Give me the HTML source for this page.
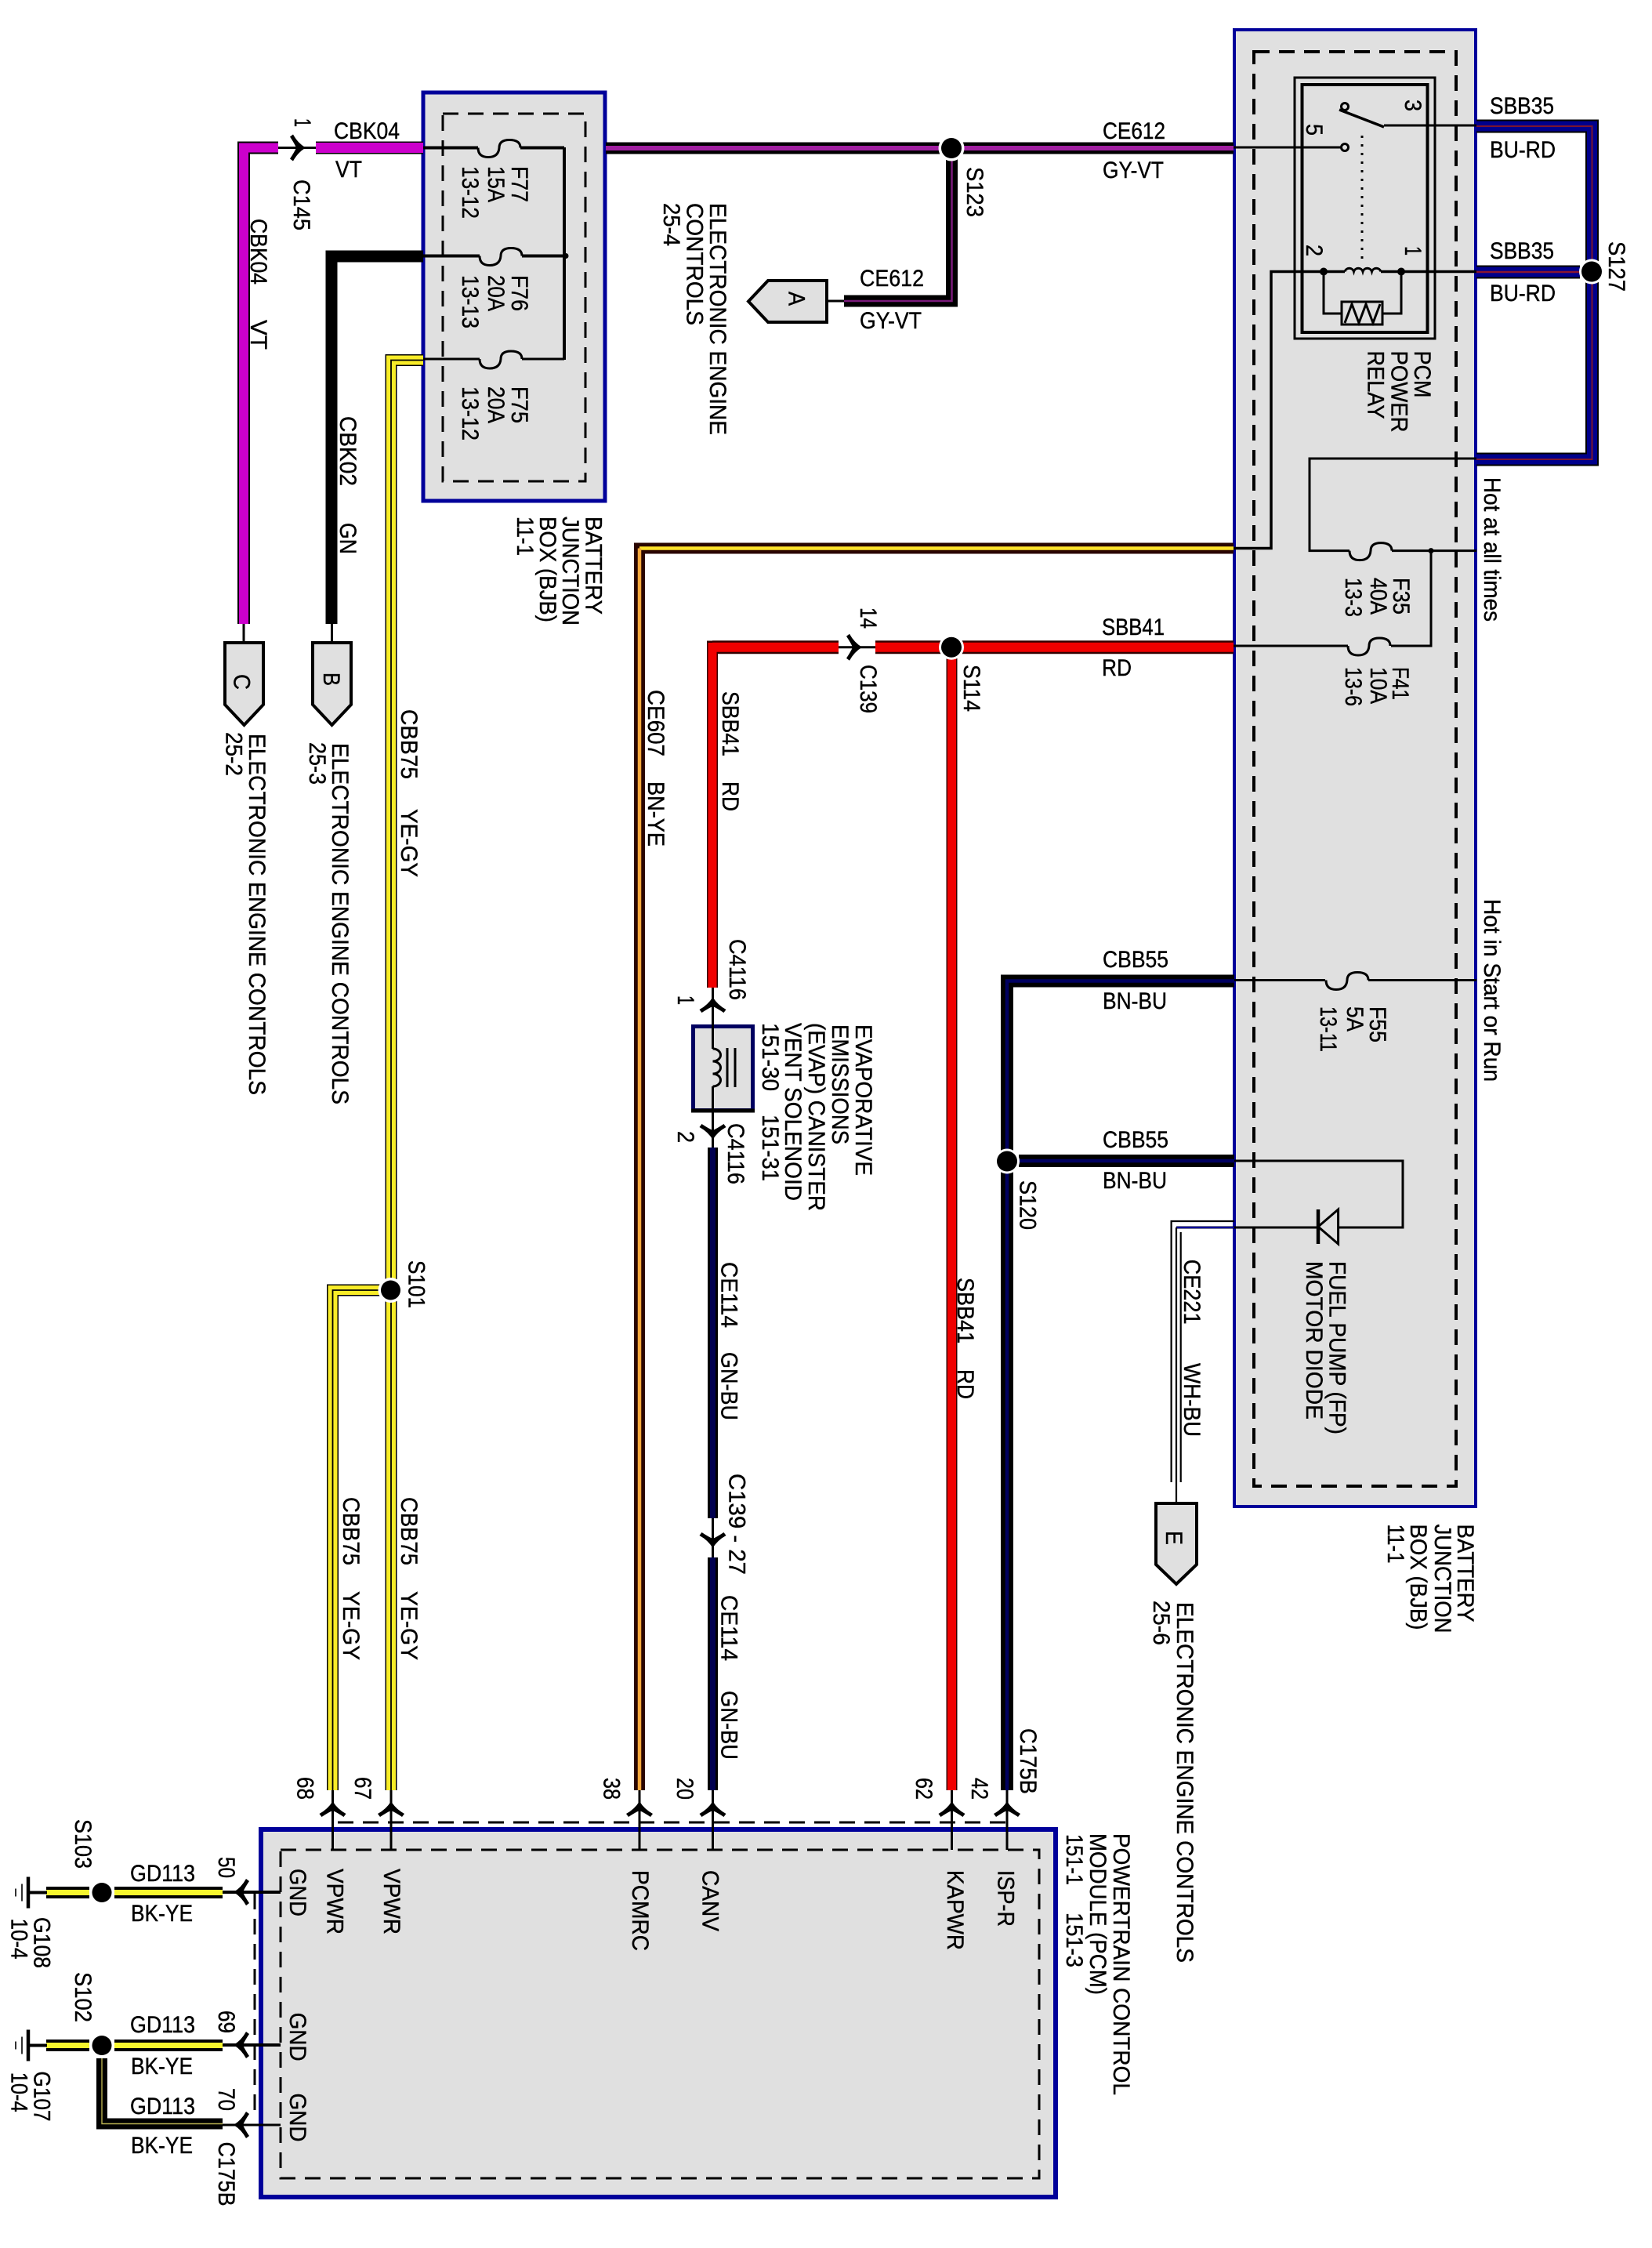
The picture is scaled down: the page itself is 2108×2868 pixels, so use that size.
<!DOCTYPE html>
<html lang="en">
<head>
<meta charset="utf-8">
<title>PCM power wiring diagram</title>
<style>
html,body{margin:0;padding:0;background:#fff}
svg{display:block}
text{font-family:"Liberation Sans",sans-serif;font-size:30px;fill:#000;stroke:#000;stroke-width:.4px}
.w{fill:none;stroke-linejoin:miter;stroke-linecap:butt}
.t{fill:none;stroke:#000;stroke-width:3}
.d{fill:none;stroke:#000;stroke-width:3;stroke-dasharray:20 12}
.box{fill:#e0e0e0;stroke:#00009a;stroke-width:5}
.conn{fill:#e0e0e0;stroke:#000;stroke-width:4}
</style>
</head>
<body>
<svg xmlns="http://www.w3.org/2000/svg" width="2108" height="2868" viewBox="0 0 2108 2868">
<defs>
<path id="fuse" class="t" d="M0 0Q0 12 13 12Q26 12 27 0Q27-10 40-10Q54-10 54 0"/>
<path id="chev" d="M0-2Q-6 8-17 14L-14 18Q-5 12 0 10Q5 12 14 18L17 14Q6 8 0-2Z" fill="#000"/>
<g id="gnd">
<path d="M36 -20V20" stroke="#000" stroke-width="4.5" fill="none"/>
<path d="M36 0H60" stroke="#000" stroke-width="4" fill="none"/>
<path d="M28 -11V11M20 -5V5" stroke="#000" stroke-width="1.6" fill="none"/>
</g>
</defs>
<rect width="2108" height="2868" fill="#fff"/>

<!-- Boxes -->
<rect class="box" x="540" y="118" width="232" height="521"/>
<rect class="d" x="565" y="145" width="182" height="469"/>
<rect class="box" x="1575" y="38" width="308" height="1884" style="stroke-width:4"/>
<rect class="d" x="1600" y="66" width="258" height="1830" style="stroke-width:4"/>
<rect class="box" x="333" y="2334" width="1014" height="469" style="stroke-width:6"/>
<rect class="d" x="358" y="2360" width="968" height="419"/>
<path class="d" d="M431 2325H1285M325 2416V2700"/>

<!-- CBK04 -->
<path class="w" stroke="#000" stroke-width="16" d="M355 188.5H311V796"/>
<path class="w" stroke="#cc00cc" stroke-width="12" d="M355 188.5H311V796"/>
<path class="w" stroke="#000" stroke-width="16" d="M403 188.5H540"/>
<path class="w" stroke="#cc00cc" stroke-width="13" d="M403 188.5H540"/>
<!-- CBK02 -->
<path class="w" stroke="#000" stroke-width="15" d="M540 327H423V796"/>
<!-- CBB75 -->
<path class="w" stroke="#000" stroke-width="15" d="M540 459.5H499V2284"/>
<path class="w" stroke="#f8ec28" stroke-width="12" d="M540 459.5H499V2284"/>
<path class="w" stroke="#000" stroke-width="1.8" d="M540 459.5H499V2284"/>
<path class="w" stroke="#000" stroke-width="15" d="M486 1646H424.5V2284"/>
<path class="w" stroke="#f8ec28" stroke-width="12" d="M486 1646H424.5V2284"/>
<path class="w" stroke="#000" stroke-width="1.8" d="M486 1646H424.5V2284"/>

<!-- CE612 -->
<path class="w" stroke="#000" stroke-width="15" d="M773 189H1574"/>
<path class="w" stroke="#a01fa0" stroke-width="6" d="M773 189H1574"/>
<path class="w" stroke="#000" stroke-width="15" d="M1214.5 200V384H1077"/>
<path class="w" stroke="#7a1a7a" stroke-width="2.5" d="M1214.5 200V384H1077"/>
<path class="t" d="M1055 384H1077"/>

<!-- CE607 -->
<path class="w" stroke="#2a0500" stroke-width="14" d="M1574 699.5H816V2284"/>
<path class="w" stroke="#ffe22a" stroke-width="4.5" d="M1574 699.5H816"/>
<path class="w" stroke="#f6a83c" stroke-width="4.5" d="M816 699.5V2284"/>

<!-- SBB41 -->
<path class="w" stroke="#300" stroke-width="17" d="M1070 825.7H909"/>
<path class="w" stroke="#300" stroke-width="14" d="M909 817.5V1260"/>
<path class="w" stroke="#f00000" stroke-width="12" d="M1070 825.7H909"/>
<path class="w" stroke="#f00000" stroke-width="11" d="M909 820V1260"/>
<path class="w" stroke="#300" stroke-width="17" d="M1117 825.7H1574"/>
<path class="w" stroke="#f00000" stroke-width="12" d="M1117 825.7H1574"/>
<path class="w" stroke="#300" stroke-width="14" d="M1214.5 840V2284"/>
<path class="w" stroke="#f00000" stroke-width="11" d="M1214.5 840V2284"/>

<!-- CE114 -->
<path class="w" stroke="#000" stroke-width="13" d="M909.5 1464V1937M909.5 1987V2284"/>
<path class="w" stroke="#000050" stroke-width="7" d="M909.5 1464V1937M909.5 1987V2284"/>

<!-- CBB55 / C175B -->
<path class="w" stroke="#000" stroke-width="16" d="M1575 1251.5H1285V2284"/>
<path class="w" stroke="#000060" stroke-width="4.5" d="M1575 1251.5H1285V2284"/>
<path class="w" stroke="#000" stroke-width="16" d="M1300 1481H1575"/>
<path class="w" stroke="#000060" stroke-width="4.5" d="M1300 1481H1575"/>

<!-- SBB35 -->
<path class="w" stroke="#000" stroke-width="17" d="M1884 161H2031.5V586H1884"/>
<path class="w" stroke="#00008c" stroke-width="13" d="M1884 161H2031.5V586H1884"/>
<path class="w" stroke="#7a1530" stroke-width="2" d="M1884 161H2031.5V586H1884"/>
<path class="w" stroke="#000" stroke-width="17" d="M1884 347H2016"/>
<path class="w" stroke="#00008c" stroke-width="13" d="M1884 347H2016"/>
<path class="w" stroke="#8a1530" stroke-width="2.5" d="M1884 347H2016"/>

<!-- GD113 -->
<path class="w" stroke="#000" stroke-width="15" d="M146 2414.5H284M59 2414.5H114M146 2609.5H284M59 2609.5H114"/>
<path class="w" stroke="#f6f62e" stroke-width="7" d="M146 2414.5H284M59 2414.5H114M146 2609.5H284M59 2609.5H114"/>
<path class="w" stroke="#000" stroke-width="14" d="M130 2626V2709.5H284"/>
<path class="w" stroke="#b8b050" stroke-width="1.4" d="M130 2626V2709.5H284"/>

<!-- BJB1 internals -->
<path class="t" style="stroke-width:4" d="M540 188.5H610M664 188.5H720M540 326.5H612M666 326.5H722"/>
<path class="t" d="M540 458H612M666 458H720"/>
<path class="t" style="stroke-width:4" d="M720 188V459"/>
<circle cx="722" cy="326.5" r="3.5"/>
<use href="#fuse" x="610" y="188.5"/>
<use href="#fuse" x="612" y="326.5"/>
<use href="#fuse" x="612" y="458"/>

<!-- C145 -->
<path class="t" d="M355 188.5H403"/>
<use href="#chev" transform="translate(388 188.5) rotate(90)"/>

<!-- Relay -->
<rect x="1652" y="99" width="179" height="333" fill="none" stroke="#000" stroke-width="3"/>
<rect x="1661.5" y="108" width="160" height="316" fill="none" stroke="#000" stroke-width="4"/>
<path class="t" d="M1574 188H1712"/>
<circle cx="1716" cy="188" r="4.5" fill="#e0e0e0" stroke="#000" stroke-width="3"/>
<circle cx="1716" cy="136" r="4.5" fill="#e0e0e0" stroke="#000" stroke-width="3"/>
<path class="t" d="M1709 140L1766 162" style="stroke-width:3.5"/>
<path class="t" d="M1766 160H1884"/>
<path d="M1738 173V331" fill="none" stroke="#000" stroke-width="3" stroke-dasharray="3 8"/>
<path class="t" style="stroke-width:3.5" d="M1884 346.5H1762M1716 346.5H1622V699.5H1574"/>
<path class="t" d="M1716 346.5a6 6 0 0 1 11.5 0a6 6 0 0 1 11.5 0a6 6 0 0 1 11.5 0a6 6 0 0 1 11.5 0"/>
<circle cx="1689" cy="346.5" r="5"/><circle cx="1788" cy="346.5" r="5"/>
<path class="t" d="M1689 346.5V400H1712M1764 400H1788V346.5"/>
<rect x="1712" y="385" width="52" height="29" fill="#e0e0e0" stroke="#000" stroke-width="3"/>
<path class="t" d="M1716 412L1725 388L1734 412L1743 388L1752 412L1761 388"/>

<!-- Hot at all times fuses -->
<path class="t" d="M1884 585H1671V702.6H1722M1776 702.6H1884M1574 824H1720M1775 824H1826V702.6"/>
<circle cx="1826" cy="702.6" r="3.5"/>
<use href="#fuse" x="1722" y="702.6"/>
<use href="#fuse" x="1720" y="824"/>
<path class="t" d="M1575 1250.5H1691M1746 1250.5H1884"/>
<use href="#fuse" x="1692" y="1250.5"/>

<!-- Diode -->
<path class="t" d="M1575 1481H1790V1566H1707.6M1681 1566H1501V1566"/>
<path d="M1682 1543V1587" stroke="#000" stroke-width="4.5" fill="none"/>
<path d="M1682 1565L1707.6 1543V1587Z" fill="#e0e0e0" stroke="#000" stroke-width="3"/>

<!-- CE221 -->
<path fill="none" stroke="#000" stroke-width="2.2" d="M1575 1558H1494.6V1891M1506.7 1572V1891"/>
<path fill="none" stroke="#00009a" stroke-width="2.2" d="M1575 1566H1501"/>
<path fill="none" stroke="#000" stroke-width="2.2" d="M1501 1566V1918"/>

<!-- Connector pentagons -->
<path class="conn" d="M980 358H1055V411H980L955 384.5Z"/>
<path class="t" d="M311 796V819M423.5 796V819"/>
<path class="conn" d="M287 820H336V899L311.5 925L287 899Z"/>
<path class="conn" d="M399 820H448V899L423.5 925L399 899Z"/>
<path class="conn" d="M1475 1918H1527V1996L1501 2021L1475 1996Z"/>

<!-- Solenoid -->
<rect x="884.5" y="1309.5" width="76" height="107" fill="#e0e0e0" stroke="#000060" stroke-width="5"/>
<path d="M882 1417H963" stroke="#000" stroke-width="5" fill="none"/>
<path class="t" d="M909.5 1260V1338M909.5 1386V1464"/>
<path class="t" d="M909.5 1338a10 8 0 0 1 0 16a10 8 0 0 1 0 16a10 8 0 0 1 0 16"/>
<path class="t" d="M928 1337V1387M938 1337V1387"/>
<use href="#chev" x="909.5" y="1274"/>
<use href="#chev" transform="translate(909.5 1452) rotate(180)"/>

<!-- C139 -->
<path class="t" d="M1070 825.7H1117"/>
<use href="#chev" transform="translate(1098 825.7) rotate(90)"/>
<!-- C139-27 -->
<path class="t" d="M909.5 1937V1987"/>
<use href="#chev" transform="translate(909.5 1973) rotate(180)"/>

<!-- PCM pins top -->
<path class="t" d="M424.5 2284V2360M499 2284V2360M816 2284V2360M909.5 2284V2360M1214.5 2284V2360M1285 2284V2360"/>
<use href="#chev" x="424.5" y="2300"/><use href="#chev" x="499" y="2300"/>
<use href="#chev" x="816" y="2300"/><use href="#chev" x="909.5" y="2300"/>
<use href="#chev" x="1214.5" y="2300"/><use href="#chev" x="1285" y="2300"/>
<!-- PCM pins left -->
<path class="t" style="stroke-width:4" d="M284 2414H358M284 2609H358"/>
<path class="t" d="M284 2711H358"/>
<use href="#chev" transform="translate(300 2414) rotate(-90)"/>
<use href="#chev" transform="translate(300 2609) rotate(-90)"/>
<use href="#chev" transform="translate(300 2711) rotate(-90)"/>
<!-- Grounds -->
<use href="#gnd" y="2414.5"/>
<use href="#gnd" y="2609.5"/>

<!-- Splices -->
<g>
<circle cx="1214" cy="189" r="16.5" fill="#fff"/><circle cx="1214" cy="189" r="13"/>
<circle cx="2031" cy="346.5" r="16" fill="#fff"/><circle cx="2031" cy="346.5" r="13"/>
<circle cx="1214" cy="825.7" r="16" fill="#fff"/><circle cx="1214" cy="825.7" r="13"/>
<circle cx="1285" cy="1481.5" r="16" fill="#fff"/><circle cx="1285" cy="1481.5" r="13"/>
<circle cx="498.5" cy="1646" r="16" fill="#fff"/><circle cx="498.5" cy="1646" r="12.5"/>
<circle cx="130" cy="2414.5" r="15.5" fill="#fff"/><circle cx="130" cy="2414.5" r="12.5"/>
<circle cx="130" cy="2609.5" r="15.5" fill="#fff"/><circle cx="130" cy="2609.5" r="12.5"/>
</g>

<!-- Horizontal labels -->
<g>
<text x="426" y="177" textLength="84" lengthAdjust="spacingAndGlyphs">CBK04</text>
<text x="428" y="226" textLength="34" lengthAdjust="spacingAndGlyphs">VT</text>
<text x="1407" y="177" textLength="80" lengthAdjust="spacingAndGlyphs">CE612</text>
<text x="1407" y="227" textLength="78" lengthAdjust="spacingAndGlyphs">GY-VT</text>
<text x="1097" y="365" textLength="82" lengthAdjust="spacingAndGlyphs">CE612</text>
<text x="1097" y="419" textLength="79" lengthAdjust="spacingAndGlyphs">GY-VT</text>
<text x="1901" y="145" textLength="82" lengthAdjust="spacingAndGlyphs">SBB35</text>
<text x="1901" y="201" textLength="84" lengthAdjust="spacingAndGlyphs">BU-RD</text>
<text x="1901" y="330" textLength="82" lengthAdjust="spacingAndGlyphs">SBB35</text>
<text x="1901" y="384" textLength="84" lengthAdjust="spacingAndGlyphs">BU-RD</text>
<text x="1406" y="810" textLength="80" lengthAdjust="spacingAndGlyphs">SBB41</text>
<text x="1406" y="862" textLength="38" lengthAdjust="spacingAndGlyphs">RD</text>
<text x="1407" y="1234" textLength="84" lengthAdjust="spacingAndGlyphs">CBB55</text>
<text x="1407" y="1287" textLength="82" lengthAdjust="spacingAndGlyphs">BN-BU</text>
<text x="1407" y="1464" textLength="84" lengthAdjust="spacingAndGlyphs">CBB55</text>
<text x="1407" y="1516" textLength="82" lengthAdjust="spacingAndGlyphs">BN-BU</text>
<text x="166" y="2400" textLength="83" lengthAdjust="spacingAndGlyphs">GD113</text>
<text x="167" y="2451" textLength="79" lengthAdjust="spacingAndGlyphs">BK-YE</text>
<text x="166" y="2593" textLength="83" lengthAdjust="spacingAndGlyphs">GD113</text>
<text x="167" y="2646" textLength="79" lengthAdjust="spacingAndGlyphs">BK-YE</text>
<text x="166" y="2697" textLength="83" lengthAdjust="spacingAndGlyphs">GD113</text>
<text x="167" y="2747" textLength="79" lengthAdjust="spacingAndGlyphs">BK-YE</text>
</g>

<!-- Rotated labels -->
<text transform="translate(376 151) rotate(90)" textLength="11" lengthAdjust="spacingAndGlyphs">1</text>
<text transform="translate(375 229) rotate(90)" textLength="65" lengthAdjust="spacingAndGlyphs">C145</text>
<text transform="translate(320 279) rotate(90)" textLength="84" lengthAdjust="spacingAndGlyphs">CBK04</text>
<text transform="translate(320 408) rotate(90)" textLength="38" lengthAdjust="spacingAndGlyphs">VT</text>
<text transform="translate(653 212) rotate(90)" textLength="46" lengthAdjust="spacingAndGlyphs">F77</text>
<text transform="translate(623 212) rotate(90)" textLength="46" lengthAdjust="spacingAndGlyphs">15A</text>
<text transform="translate(590 212) rotate(90)" textLength="67" lengthAdjust="spacingAndGlyphs">13-12</text>
<text transform="translate(653 351) rotate(90)" textLength="46" lengthAdjust="spacingAndGlyphs">F76</text>
<text transform="translate(623 351) rotate(90)" textLength="46" lengthAdjust="spacingAndGlyphs">20A</text>
<text transform="translate(590 351) rotate(90)" textLength="68" lengthAdjust="spacingAndGlyphs">13-13</text>
<text transform="translate(653 493) rotate(90)" textLength="47" lengthAdjust="spacingAndGlyphs">F75</text>
<text transform="translate(623 493) rotate(90)" textLength="47" lengthAdjust="spacingAndGlyphs">20A</text>
<text transform="translate(590 493) rotate(90)" textLength="69" lengthAdjust="spacingAndGlyphs">13-12</text>
<text transform="translate(906 259) rotate(90)" textLength="296" lengthAdjust="spacingAndGlyphs">ELECTRONIC ENGINE</text>
<text transform="translate(876.5 259) rotate(90)" textLength="156" lengthAdjust="spacingAndGlyphs">CONTROLS</text>
<text transform="translate(847 259) rotate(90)" textLength="55" lengthAdjust="spacingAndGlyphs">25-4</text>
<text transform="translate(434 531) rotate(90)" textLength="89" lengthAdjust="spacingAndGlyphs">CBK02</text>
<text transform="translate(434 667) rotate(90)" textLength="40" lengthAdjust="spacingAndGlyphs">GN</text>
<text transform="translate(747.5 659) rotate(90)" textLength="125" lengthAdjust="spacingAndGlyphs">BATTERY</text>
<text transform="translate(718 659) rotate(90)" textLength="139" lengthAdjust="spacingAndGlyphs">JUNCTION</text>
<text transform="translate(689 659) rotate(90)" textLength="135" lengthAdjust="spacingAndGlyphs">BOX (BJB)</text>
<text transform="translate(660 659) rotate(90)" textLength="50" lengthAdjust="spacingAndGlyphs">11-1</text>
<text transform="translate(1006.5 372) rotate(90)" textLength="18" lengthAdjust="spacingAndGlyphs">A</text>
<text transform="translate(1234 213) rotate(90)" textLength="64" lengthAdjust="spacingAndGlyphs">S123</text>
<text transform="translate(1793 127) rotate(90)" textLength="15" lengthAdjust="spacingAndGlyphs">3</text>
<text transform="translate(1667 158) rotate(90)" textLength="15" lengthAdjust="spacingAndGlyphs">5</text>
<text transform="translate(1667 312) rotate(90)" textLength="15" lengthAdjust="spacingAndGlyphs">2</text>
<text transform="translate(1793 314) rotate(90)" textLength="12" lengthAdjust="spacingAndGlyphs">1</text>
<text transform="translate(1805 447.5) rotate(90)" textLength="60" lengthAdjust="spacingAndGlyphs">PCM</text>
<text transform="translate(1775.5 447.5) rotate(90)" textLength="104" lengthAdjust="spacingAndGlyphs">POWER</text>
<text transform="translate(1745.7 447.5) rotate(90)" textLength="87" lengthAdjust="spacingAndGlyphs">RELAY</text>
<text transform="translate(2053 308) rotate(90)" textLength="64" lengthAdjust="spacingAndGlyphs">S127</text>
<text transform="translate(1894 609) rotate(90)" textLength="184" lengthAdjust="spacingAndGlyphs">Hot at all times</text>
<text transform="translate(1778 737) rotate(90)" textLength="47" lengthAdjust="spacingAndGlyphs">F35</text>
<text transform="translate(1749 737) rotate(90)" textLength="47" lengthAdjust="spacingAndGlyphs">40A</text>
<text transform="translate(1717 737) rotate(90)" textLength="50" lengthAdjust="spacingAndGlyphs">13-3</text>
<text transform="translate(1777 851) rotate(90)" textLength="42" lengthAdjust="spacingAndGlyphs">F41</text>
<text transform="translate(1749 851) rotate(90)" textLength="47" lengthAdjust="spacingAndGlyphs">10A</text>
<text transform="translate(1717 851) rotate(90)" textLength="50" lengthAdjust="spacingAndGlyphs">13-6</text>
<text transform="translate(1098 775) rotate(90)" textLength="27" lengthAdjust="spacingAndGlyphs">14</text>
<text transform="translate(1098 848) rotate(90)" textLength="62" lengthAdjust="spacingAndGlyphs">C139</text>
<text transform="translate(1230 848) rotate(90)" textLength="60" lengthAdjust="spacingAndGlyphs">S114</text>
<text transform="translate(922 882) rotate(90)" textLength="83" lengthAdjust="spacingAndGlyphs">SBB41</text>
<text transform="translate(922 997) rotate(90)" textLength="38" lengthAdjust="spacingAndGlyphs">RD</text>
<text transform="translate(827 880) rotate(90)" textLength="85" lengthAdjust="spacingAndGlyphs">CE607</text>
<text transform="translate(827 997) rotate(90)" textLength="83" lengthAdjust="spacingAndGlyphs">BN-YE</text>
<text transform="translate(413 858) rotate(90)" textLength="17" lengthAdjust="spacingAndGlyphs">B</text>
<text transform="translate(298.5 860) rotate(90)" textLength="20" lengthAdjust="spacingAndGlyphs">C</text>
<text transform="translate(318 936) rotate(90)" textLength="461" lengthAdjust="spacingAndGlyphs">ELECTRONIC ENGINE CONTROLS</text>
<text transform="translate(288.5 934) rotate(90)" textLength="56" lengthAdjust="spacingAndGlyphs">25-2</text>
<text transform="translate(424 948) rotate(90)" textLength="461" lengthAdjust="spacingAndGlyphs">ELECTRONIC ENGINE CONTROLS</text>
<text transform="translate(395 947) rotate(90)" textLength="54" lengthAdjust="spacingAndGlyphs">25-3</text>
<text transform="translate(512 905) rotate(90)" textLength="89" lengthAdjust="spacingAndGlyphs">CBB75</text>
<text transform="translate(512 1032) rotate(90)" textLength="87" lengthAdjust="spacingAndGlyphs">YE-GY</text>
<text transform="translate(521.5 1608) rotate(90)" textLength="61" lengthAdjust="spacingAndGlyphs">S101</text>
<text transform="translate(438 1910) rotate(90)" textLength="87" lengthAdjust="spacingAndGlyphs">CBB75</text>
<text transform="translate(438 2030) rotate(90)" textLength="88" lengthAdjust="spacingAndGlyphs">YE-GY</text>
<text transform="translate(512 1910) rotate(90)" textLength="87" lengthAdjust="spacingAndGlyphs">CBB75</text>
<text transform="translate(512 2030) rotate(90)" textLength="88" lengthAdjust="spacingAndGlyphs">YE-GY</text>
<text transform="translate(931 1198) rotate(90)" textLength="78" lengthAdjust="spacingAndGlyphs">C4116</text>
<text transform="translate(865 1270) rotate(90)" textLength="12" lengthAdjust="spacingAndGlyphs">1</text>
<text transform="translate(865 1443) rotate(90)" textLength="15" lengthAdjust="spacingAndGlyphs">2</text>
<text transform="translate(929 1433) rotate(90)" textLength="78" lengthAdjust="spacingAndGlyphs">C4116</text>
<text transform="translate(1092 1307) rotate(90)" textLength="193" lengthAdjust="spacingAndGlyphs">EVAPORATIVE</text>
<text transform="translate(1062 1307) rotate(90)" textLength="153" lengthAdjust="spacingAndGlyphs">EMISSIONS</text>
<text transform="translate(1032 1305) rotate(90)" textLength="240" lengthAdjust="spacingAndGlyphs">(EVAP) CANISTER</text>
<text transform="translate(1002 1305) rotate(90)" textLength="227" lengthAdjust="spacingAndGlyphs">VENT SOLENOID</text>
<text transform="translate(973 1305) rotate(90)" textLength="87" lengthAdjust="spacingAndGlyphs">151-30</text>
<text transform="translate(973 1422) rotate(90)" textLength="85" lengthAdjust="spacingAndGlyphs">151-31</text>
<text transform="translate(920.6 1610) rotate(90)" textLength="84" lengthAdjust="spacingAndGlyphs">CE114</text>
<text transform="translate(920.6 1725) rotate(90)" textLength="87" lengthAdjust="spacingAndGlyphs">GN-BU</text>
<text transform="translate(930.3 1880) rotate(90)" textLength="129" lengthAdjust="spacingAndGlyphs">C139 - 27</text>
<text transform="translate(920.6 2035) rotate(90)" textLength="84" lengthAdjust="spacingAndGlyphs">CE114</text>
<text transform="translate(920.6 2157) rotate(90)" textLength="88" lengthAdjust="spacingAndGlyphs">GN-BU</text>
<text transform="translate(1222 1630) rotate(90)" textLength="84" lengthAdjust="spacingAndGlyphs">SBB41</text>
<text transform="translate(1222 1747) rotate(90)" textLength="38" lengthAdjust="spacingAndGlyphs">RD</text>
<text transform="translate(1748 1284) rotate(90)" textLength="46" lengthAdjust="spacingAndGlyphs">F55</text>
<text transform="translate(1719 1284) rotate(90)" textLength="32" lengthAdjust="spacingAndGlyphs">5A</text>
<text transform="translate(1685 1284) rotate(90)" textLength="58" lengthAdjust="spacingAndGlyphs">13-11</text>
<text transform="translate(1894 1147) rotate(90)" textLength="233" lengthAdjust="spacingAndGlyphs">Hot in Start or Run</text>
<text transform="translate(1301.5 1506) rotate(90)" textLength="63" lengthAdjust="spacingAndGlyphs">S120</text>
<text transform="translate(1511 1606.6) rotate(90)" textLength="83" lengthAdjust="spacingAndGlyphs">CE221</text>
<text transform="translate(1511 1739) rotate(90)" textLength="94" lengthAdjust="spacingAndGlyphs">WH-BU</text>
<text transform="translate(1696.4 1609) rotate(90)" textLength="221" lengthAdjust="spacingAndGlyphs">FUEL PUMP (FP)</text>
<text transform="translate(1667 1609) rotate(90)" textLength="202" lengthAdjust="spacingAndGlyphs">MOTOR DIODE</text>
<text transform="translate(1488 1953) rotate(90)" textLength="18" lengthAdjust="spacingAndGlyphs">E</text>
<text transform="translate(1502 2044) rotate(90)" textLength="460" lengthAdjust="spacingAndGlyphs">ELECTRONIC ENGINE CONTROLS</text>
<text transform="translate(1472 2042) rotate(90)" textLength="57" lengthAdjust="spacingAndGlyphs">25-6</text>
<text transform="translate(1860 1944.5) rotate(90)" textLength="125" lengthAdjust="spacingAndGlyphs">BATTERY</text>
<text transform="translate(1831 1944.5) rotate(90)" textLength="139" lengthAdjust="spacingAndGlyphs">JUNCTION</text>
<text transform="translate(1800 1944.5) rotate(90)" textLength="135" lengthAdjust="spacingAndGlyphs">BOX (BJB)</text>
<text transform="translate(1771 1944.5) rotate(90)" textLength="50" lengthAdjust="spacingAndGlyphs">11-1</text>
<text transform="translate(1421 2339) rotate(90)" textLength="334" lengthAdjust="spacingAndGlyphs">POWERTRAIN CONTROL</text>
<text transform="translate(1391 2339) rotate(90)" textLength="206" lengthAdjust="spacingAndGlyphs">MODULE (PCM)</text>
<text transform="translate(1361 2340) rotate(90)" textLength="65" lengthAdjust="spacingAndGlyphs">151-1</text>
<text transform="translate(1361 2440) rotate(90)" textLength="70" lengthAdjust="spacingAndGlyphs">151-3</text>
<text transform="translate(1302 2205) rotate(90)" textLength="84" lengthAdjust="spacingAndGlyphs">C175B</text>
<text transform="translate(379.5 2267) rotate(90)" textLength="29" lengthAdjust="spacingAndGlyphs">68</text>
<text transform="translate(453 2267) rotate(90)" textLength="29" lengthAdjust="spacingAndGlyphs">67</text>
<text transform="translate(770.5 2268) rotate(90)" textLength="28" lengthAdjust="spacingAndGlyphs">38</text>
<text transform="translate(864 2268) rotate(90)" textLength="28" lengthAdjust="spacingAndGlyphs">20</text>
<text transform="translate(1169 2268) rotate(90)" textLength="28" lengthAdjust="spacingAndGlyphs">62</text>
<text transform="translate(1240 2268) rotate(90)" textLength="28" lengthAdjust="spacingAndGlyphs">42</text>
<text transform="translate(370 2384) rotate(90)" textLength="61" lengthAdjust="spacingAndGlyphs">GND</text>
<text transform="translate(417.4 2384) rotate(90)" textLength="84" lengthAdjust="spacingAndGlyphs">VPWR</text>
<text transform="translate(490 2384) rotate(90)" textLength="84" lengthAdjust="spacingAndGlyphs">VPWR</text>
<text transform="translate(807 2386) rotate(90)" textLength="103" lengthAdjust="spacingAndGlyphs">PCMRC</text>
<text transform="translate(896.4 2386) rotate(90)" textLength="78" lengthAdjust="spacingAndGlyphs">CANV</text>
<text transform="translate(1209 2386) rotate(90)" textLength="102" lengthAdjust="spacingAndGlyphs">KAPWR</text>
<text transform="translate(1273.6 2386) rotate(90)" textLength="72" lengthAdjust="spacingAndGlyphs">ISP-R</text>
<text transform="translate(370 2567.6) rotate(90)" textLength="62" lengthAdjust="spacingAndGlyphs">GND</text>
<text transform="translate(370 2670.5) rotate(90)" textLength="62" lengthAdjust="spacingAndGlyphs">GND</text>
<text transform="translate(279 2369) rotate(90)" textLength="27" lengthAdjust="spacingAndGlyphs">50</text>
<text transform="translate(279 2565) rotate(90)" textLength="29" lengthAdjust="spacingAndGlyphs">69</text>
<text transform="translate(279 2664) rotate(90)" textLength="29" lengthAdjust="spacingAndGlyphs">70</text>
<text transform="translate(279 2732.6) rotate(90)" textLength="82" lengthAdjust="spacingAndGlyphs">C175B</text>
<text transform="translate(96 2321) rotate(90)" textLength="63" lengthAdjust="spacingAndGlyphs">S103</text>
<text transform="translate(96 2516) rotate(90)" textLength="64" lengthAdjust="spacingAndGlyphs">S102</text>
<text transform="translate(43.7 2446) rotate(90)" textLength="65" lengthAdjust="spacingAndGlyphs">G108</text>
<text transform="translate(14.3 2447.5) rotate(90)" textLength="52" lengthAdjust="spacingAndGlyphs">10-4</text>
<text transform="translate(43.7 2642.5) rotate(90)" textLength="64" lengthAdjust="spacingAndGlyphs">G107</text>
<text transform="translate(14.3 2643.7) rotate(90)" textLength="51" lengthAdjust="spacingAndGlyphs">10-4</text>
</svg>
</body>
</html>
